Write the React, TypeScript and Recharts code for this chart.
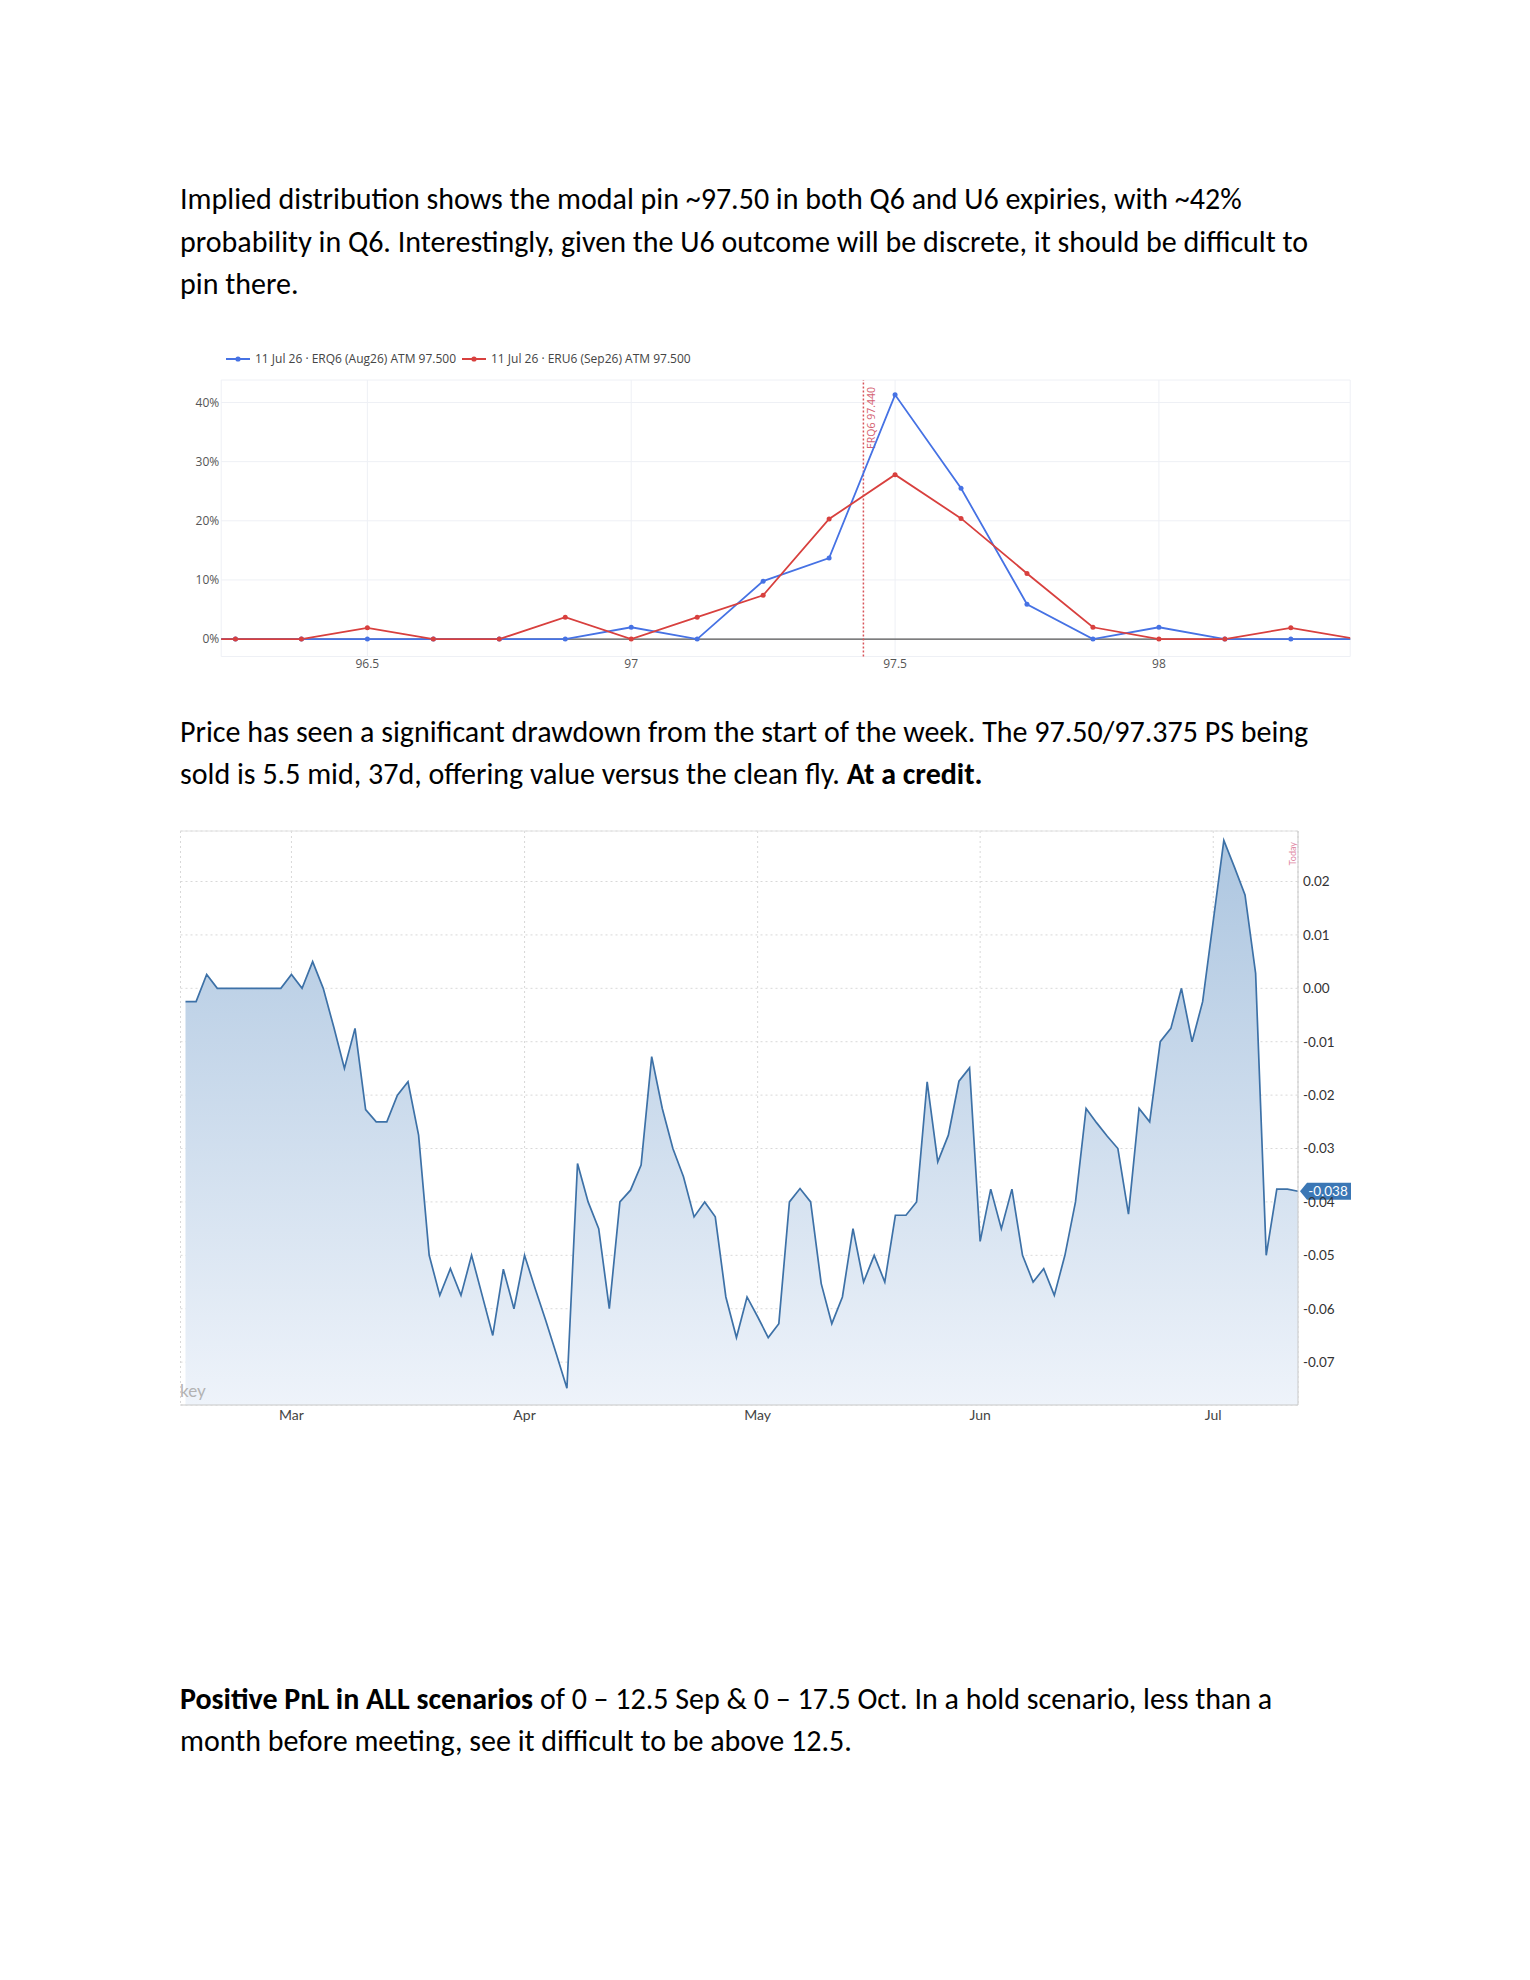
import React from "react";
import {
  LineChart, Line, AreaChart, Area,
  XAxis, YAxis, CartesianGrid, ReferenceLine, ReferenceDot,
} from "recharts";

// ---- implied distribution (top chart) ----
const STRIKES = [96.125, 96.25, 96.375, 96.5, 96.625, 96.75, 96.875, 97, 97.125, 97.25, 97.375, 97.5, 97.625, 97.75, 97.875, 98, 98.125, 98.25, 98.375];
const ERQ6_PROB = [0, 0, 0, 0, 0, 0, 0, 2.0, 0, 9.8, 13.7, 41.3, 25.5, 5.9, 0, 2.0, 0, 0, 0];
const ERU6_PROB = [0, 0, 0, 1.9, 0, 0, 3.7, 0, 3.7, 7.4, 20.3, 27.8, 20.4, 11.1, 2.0, 0, 0, 1.9, 0];
const STRIKE_TICKS = [96.5, 97, 97.5, 98];
const PROB_TICKS = [0, 10, 20, 30, 40];
const ERQ6_FWD = 97.44;

const SERIES = [
  { key: "erq6", name: "11 Jul 26 · ERQ6 (Aug26) ATM 97.500", color: "#4672e4", legendX: 226 },
  { key: "eru6", name: "11 Jul 26 · ERU6 (Sep26) ATM 97.500", color: "#d8403e", legendX: 462 },
];

// ---- put spread pnl (bottom chart), one value per business day ----
const PNL = [
  -0.0025, -0.0025, 0.0026, 0, 0, 0, 0, 0, 0, 0,
  0.0026, 0, 0.005, 0, -0.0073, -0.015, -0.0075, -0.0227, -0.025, -0.025,
  -0.02, -0.0175, -0.0275, -0.05, -0.0575, -0.0525, -0.0575, -0.05, -0.0575, -0.065,
  -0.0526, -0.06, -0.05, -0.0562, -0.0622, -0.0685, -0.0749, -0.0328, -0.04, -0.045,
  -0.06, -0.04, -0.0378, -0.0331, -0.0128, -0.0225, -0.03, -0.0353, -0.0428, -0.04,
  -0.0428, -0.0578, -0.0654, -0.0578, -0.0615, -0.0654, -0.0628, -0.04, -0.0375, -0.04,
  -0.0553, -0.0628, -0.0578, -0.045, -0.055, -0.05, -0.055, -0.0425, -0.0425, -0.04,
  -0.0175, -0.0325, -0.0275, -0.0174, -0.0149, -0.0474, -0.0376, -0.045, -0.0376, -0.05,
  -0.055, -0.0525, -0.0575, -0.05, -0.04, -0.0225, -0.0252, -0.0277, -0.03, -0.0423,
  -0.0225, -0.025, -0.01, -0.0075, 0, -0.01, -0.0025, 0.0126, 0.0277, 0.0227,
  0.0175, 0.0028, -0.05, -0.0376, -0.0376, -0.038,
];
const MONTH_TICKS = [10, 32, 54, 75, 97];
const MONTH_LABELS = ["Mar", "Apr", "May", "Jun", "Jul"];
const PNL_TICKS = [0.02, 0.01, 0, -0.01, -0.02, -0.03, -0.04, -0.05, -0.06, -0.07];
const PNL_DOMAIN = [-0.07803, 0.02946];

// ---- text ----
type Seg = [string, boolean];
const P1: Seg[][] = [
  [["Implied distribution shows the modal pin ~97.50 in both Q6 and U6 expiries, with ~42%", false]],
  [["probability in Q6. Interestingly, given the U6 outcome will be discrete, it should be difficult to", false]],
  [["pin there.", false]],
];
const P2: Seg[][] = [
  [["Price has seen a significant drawdown from the start of the week. The 97.50/97.375 PS being", false]],
  [["sold is 5.5 mid, 37d, offering value versus the clean fly. ", false], ["At a credit.", true]],
];
const P3: Seg[][] = [
  [["Positive PnL in ALL scenarios", true], [" of 0 – 12.5 Sep & 0 – 17.5 Oct. In a hold scenario, less than a", false]],
  [["month before meeting, see it difficult to be above 12.5.", false]],
];

const BODY_FONT = "Carlito, Calibri, Lato, sans-serif";
const PLOTLY_FONT = "'Open Sans', Verdana, Arial, sans-serif";

function Paragraph({ lines, top }: { lines: Seg[][]; top: number }) {
  return (
    <div style={{ position: "absolute", left: 180, top, fontFamily: BODY_FONT, fontSize: 30, lineHeight: "42.3px", color: "#000" }}>
      {lines.map((line, i) => (
        <div key={i} style={{ whiteSpace: "pre" }}>
          {line.map(([t, b], j) => (
            <span key={j} style={{ fontWeight: b ? 700 : 400 }}>{t}</span>
          ))}
        </div>
      ))}
    </div>
  );
}

const distData = STRIKES.map((s, i) => ({ strike: s, erq6: ERQ6_PROB[i], eru6: ERU6_PROB[i] }));

function Erq6Label({ viewBox }: any) {
  const x = viewBox.x + 8;
  const y = viewBox.y + 7;
  return (
    <text x={x} y={y} transform={`rotate(-90 ${x} ${y})`} textAnchor="end" dominantBaseline="central"
      fill="#d4606f" fontSize={10.5} fontFamily={PLOTLY_FONT}>
      {`ERQ6 ${ERQ6_FWD.toFixed(3)}`}
    </text>
  );
}

function DistChart() {
  const tickStyle = { fill: "#555", fontSize: 12, fontFamily: PLOTLY_FONT };
  return (
    <div style={{ position: "absolute", left: 0, top: 330, width: 1400, height: 360 }}>
      {SERIES.map((s) => (
        <div key={s.key} style={{ position: "absolute", left: s.legendX, top: 20.5, height: 16, display: "flex", alignItems: "center", fontFamily: PLOTLY_FONT, fontSize: 12, color: "#444", whiteSpace: "nowrap" }}>
          <svg width={24} height={10} style={{ marginRight: 5 }}>
            <line x1={0} y1={5} x2={24} y2={5} stroke={s.color} strokeWidth={2} />
            <circle cx={12} cy={5} r={2.6} fill={s.color} />
          </svg>
          {s.name}
        </div>
      ))}
      <LineChart width={1400} height={360} data={distData} margin={{ top: 50, right: 49.8, bottom: 13.5, left: 181.2 }}>
        <CartesianGrid stroke="#eef0f5" strokeWidth={1} />
        <XAxis dataKey="strike" type="number" domain={[96.223, 98.3625]} allowDataOverflow ticks={STRIKE_TICKS}
          interval={0} tickFormatter={(v: number) => String(v)} axisLine={false} tickLine={false}
          tickSize={0} tickMargin={3} height={20} tick={tickStyle} />
        <YAxis type="number" domain={[-2.94, 43.8]} allowDataOverflow ticks={PROB_TICKS} interval={0}
          tickFormatter={(v: number) => `${v}%`} axisLine={false} tickLine={false}
          tickSize={0} tickMargin={2} width={40} tick={tickStyle} />
        <ReferenceLine y={0} stroke="#555" strokeWidth={1.2} />
        <ReferenceLine x={ERQ6_FWD} stroke="#d9545a" strokeDasharray="2 2" strokeWidth={1.5}
          label={(p: any) => <Erq6Label {...p} />} />
        {SERIES.map((s) => (
          <Line key={s.key} type="linear" dataKey={s.key} stroke={s.color} strokeWidth={1.8}
            dot={{ r: 2.5, fill: s.color, stroke: s.color, strokeWidth: 0 }} activeDot={false}
            isAnimationActive={false} />
        ))}
      </LineChart>
    </div>
  );
}

const pnlData = PNL.map((v, i) => ({ idx: i, pnl: v }));
const LAST = PNL[PNL.length - 1];

function TodayLabel({ viewBox }: any) {
  const x = viewBox.x - 6;
  const y = viewBox.y + 11;
  return (
    <text x={x} y={y} transform={`rotate(-90 ${x} ${y})`} textAnchor="end" dominantBaseline="central"
      fill="#e08aa6" fontSize={9} fontFamily="Lato, sans-serif">Today</text>
  );
}

function LastValueTag({ cx, cy }: any) {
  return (
    <g>
      <path d={`M${cx + 2},${cy} L${cx + 9},${cy - 8.5} L${cx + 53},${cy - 8.5} L${cx + 53},${cy + 8.5} L${cx + 9},${cy + 8.5} Z`} fill="#3b77b5" />
      <text x={cx + 30} y={cy} textAnchor="middle" dominantBaseline="central" fill="#fff" fontSize={13.5} fontFamily="Lato, sans-serif">
        {LAST.toFixed(3)}
      </text>
    </g>
  );
}

function PnlChart() {
  return (
    <div style={{ position: "absolute", left: 0, top: 800, width: 1400, height: 640 }}>
      <AreaChart width={1400} height={640} data={pnlData} margin={{ top: 31, right: 42, bottom: 10, left: 180.5 }}>
        <defs>
          <linearGradient id="pnlFill" x1="0" y1="0" x2="0" y2="1">
            <stop offset="0%" stopColor="#adc6e0" />
            <stop offset="100%" stopColor="#eef3fa" />
          </linearGradient>
        </defs>
        <CartesianGrid stroke="#d8d8d8" strokeDasharray="2 3" />
        <XAxis dataKey="idx" type="number" domain={[0, PNL.length - 1]} ticks={MONTH_TICKS} interval={0}
          tickFormatter={(v: number) => MONTH_LABELS[MONTH_TICKS.indexOf(v)]} padding={{ left: 5, right: 0 }}
          axisLine={{ stroke: "#c9c9c9" }} tickLine={false} tickSize={0} tickMargin={5} height={25}
          tick={{ fill: "#444", fontSize: 14, fontFamily: "Lato, sans-serif" }} />
        <YAxis orientation="right" type="number" domain={PNL_DOMAIN} allowDataOverflow ticks={PNL_TICKS} interval={0}
          tickFormatter={(v: number) => v.toFixed(2)} axisLine={{ stroke: "#c9c9c9" }} tickLine={false}
          tickSize={0} tickMargin={5} width={60}
          tick={{ fill: "#333", fontSize: 13.5, fontFamily: "Lato, sans-serif" }} />
        <ReferenceLine y={PNL_DOMAIN[1]} stroke="#e2e2e2" />
        <ReferenceLine x={PNL.length - 1} stroke="none" label={(p: any) => <TodayLabel {...p} />} />
        <Area type="linear" dataKey="pnl" stroke="#3d71a7" strokeWidth={1.7} fill="url(#pnlFill)" fillOpacity={1}
          baseValue="dataMin" dot={false} activeDot={false} isAnimationActive={false} />
        <ReferenceDot x={PNL.length - 1} y={LAST} r={0} shape={(p: any) => <LastValueTag {...p} />} />
      </AreaChart>
      <div style={{ position: "absolute", left: 180, top: 582, fontFamily: "Lato, sans-serif", fontSize: 17, color: "#b3b3b3", lineHeight: 1 }}>key</div>
    </div>
  );
}

export default function App() {
  return (
    <div style={{ position: "absolute", left: 0, top: 0, width: 1530, height: 1980, background: "#fff", overflow: "hidden" }}>
      <Paragraph lines={P1} top={178.3} />
      <DistChart />
      <Paragraph lines={P2} top={710.8} />
      <PnlChart />
      <Paragraph lines={P3} top={1677.8} />
    </div>
  );
}
